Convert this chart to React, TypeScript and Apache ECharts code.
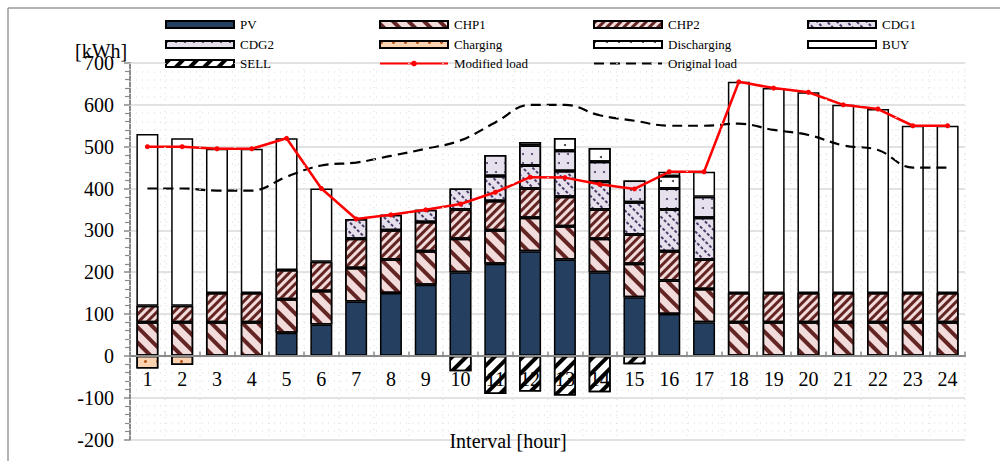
import React, { useEffect, useRef } from 'react';
import * as echarts from 'echarts';

const categories = ['1','2','3','4','5','6','7','8','9','10','11','12','13','14','15','16','17','18','19','20','21','22','23','24'];
const pv =          [0, 0, 0, 0, 55, 75, 130, 150, 170, 200, 220, 250, 230, 200, 140, 100, 80, 0, 0, 0, 0, 0, 0, 0];
const chp1 =        [80, 80, 80, 80, 80, 80, 80, 80, 80, 80, 80, 80, 80, 80, 80, 80, 80, 80, 80, 80, 80, 80, 80, 80];
const chp2 =        [40, 40, 70, 70, 70, 70, 70, 70, 70, 70, 70, 70, 70, 70, 70, 70, 70, 70, 70, 70, 70, 70, 70, 70];
const cdg1 =        [0, 0, 0, 0, 0, 0, 47, 37, 29, 50, 60, 55, 62, 66, 77, 100, 100, 0, 0, 0, 0, 0, 0, 0];
const cdg2 =        [0, 0, 0, 0, 0, 0, 0, 0, 0, 0, 50, 48, 48, 48, 52, 50, 50, 0, 0, 0, 0, 0, 0, 0];
const charging =    [-30, -22, 0, 0, 0, 0, 0, 0, 0, 0, 0, 0, 0, 0, 0, 0, 0, 0, 0, 0, 0, 0, 0, 0];
const discharging = [0, 0, 0, 0, 0, 0, 0, 0, 0, 0, 0, 8, 31, 33, 0, 30, 0, 0, 0, 0, 0, 0, 0, 0];
const buy =         [410, 400, 345, 345, 315, 175, 0, 0, 0, 0, 0, 0, 0, 0, 0, 10, 60, 505, 490, 480, 450, 440, 400, 400];
const sell =        [0, 0, 0, 0, 0, 0, 0, 0, 0, -37, -91, -85, -95, -87, -20, 0, 0, 0, 0, 0, 0, 0, 0, 0];
const modifiedLoad = [500, 500, 495, 495, 520, 400, 327, 337, 349, 363, 391, 427, 426, 410, 399, 440, 440, 655, 640, 630, 600, 590, 550, 550];
const originalLoad = [400, 400, 395, 395, 428, 455, 462, 478, 495, 515, 558, 600, 600, 575, 562, 550, 550, 555, 540, 528, 503, 492, 450, 450];
const yTicks = { min: -200, max: 700, interval: 100 };

const FONT = '"Liberation Serif", "Times New Roman", serif';

export default function App() {
  const ref = useRef<HTMLDivElement>(null);
  useEffect(() => {
    if (!ref.current) return;
    const chart = echarts.init(ref.current, null, { renderer: 'svg' });
    const nz = (arr: number[]) => arr.map(v => (v === 0 ? '-' : v));
    const barBase = (name: string, data: number[], color: string, decal?: any) => ({
      name,
      type: 'bar',
      stack: 'total',
      barWidth: 22,
      data: nz(data),
      itemStyle: Object.assign({ color, borderColor: '#000', borderWidth: 1.5 }, decal ? { decal } : {}),
      emphasis: { disabled: true },
      z: 2,
    });
    const series: any[] = [
      barBase('PV', pv, '#253f60'),
      barBase('CHP1', chp1, '#f2dcdb', { symbol: 'rect', symbolSize: 1, color: '#632523', dashArrayX: [1, 0], dashArrayY: [4, 6.5], rotation: Math.PI / 4 }),
      barBase('CHP2', chp2, '#f2dcdb', { symbol: 'rect', symbolSize: 1, color: '#632523', dashArrayX: [1, 0], dashArrayY: [2.3, 2.6], rotation: -Math.PI / 4 }),
      barBase('CDG1', cdg1, '#e5e0ec', { symbol: 'rect', symbolSize: 1, color: '#4b3d68', dashArrayX: [3, 2], dashArrayY: [1.5, 5], rotation: Math.PI / 4 }),
      barBase('CDG2', cdg2, '#e5e0ec', { symbol: 'circle', symbolSize: 1, color: '#4b3d68', dashArrayX: [1.8, 7], dashArrayY: [1.8, 7], rotation: 0 }),
      barBase('Charging', charging, '#fbd3b0', { symbol: 'circle', symbolSize: 1, color: '#b2561a', dashArrayX: [2.2, 9], dashArrayY: [2.2, 6], rotation: 0 }),
      barBase('Discharging', discharging, '#ffffff', { symbol: 'circle', symbolSize: 1, color: '#333333', dashArrayX: [2, 10], dashArrayY: [2, 10], rotation: 0 }),
      barBase('BUY', buy, '#ffffff'),
      barBase('SELL', sell, '#ffffff', { symbol: 'rect', symbolSize: 1, color: '#000000', dashArrayX: [1, 0], dashArrayY: [4, 6], rotation: -Math.PI / 4 }),
      {
        name: 'Modified load',
        type: 'line',
        data: modifiedLoad,
        symbol: 'circle',
        symbolSize: 5,
        itemStyle: { color: '#ff0000' },
        lineStyle: { color: '#ff0000', width: 2.5 },
        emphasis: { disabled: true },
        z: 5,
      },
      {
        name: 'Original load',
        type: 'line',
        data: originalLoad,
        symbol: 'none',
        smooth: 0.4,
        itemStyle: { color: '#000' },
        lineStyle: { color: '#000', width: 2.2, type: [10, 6] },
        emphasis: { disabled: true },
        z: 4,
      },
    ];
    const legendNames = ['PV', 'CHP1', 'CHP2', 'CDG1', 'CDG2', 'Charging', 'Discharging', 'BUY', 'SELL', 'Modified load', 'Original load'];
    const colsX = [165, 379, 593, 807];
    const rowsY = [25, 45, 64];
    const legends = legendNames.map((name, i) => {
      const l: any = {
        data: [i < 9 ? { name, icon: 'rect' } : { name }],
        left: colsX[i % 4],
        top: rowsY[Math.floor(i / 4)] - 7,
        itemWidth: 68,
        itemHeight: 7,
        itemGap: 0,
        selectedMode: false,
        padding: 0,
        textStyle: { fontFamily: FONT, fontSize: 13, color: '#000', padding: [0, 0, 0, 1] },
      };
      if (i === 10) l.itemStyle = { opacity: 0 };
      return l;
    });
    const gridTop = 63;
    const gridBottom = 21.5;
    const gridH = 461 - gridTop - gridBottom;
    const zeroOffset = -gridH * (0 - yTicks.min) / (yTicks.max - yTicks.min);
    chart.setOption({
      animation: false,
      legend: legends,
      grid: { left: 130, right: 35, top: gridTop, bottom: gridBottom, containLabel: false, outerBoundsMode: 'none' },
      xAxis: {
        type: 'category',
        data: categories,
        position: 'bottom',
        offset: zeroOffset,
        z: 10,
        axisLine: { onZero: false, lineStyle: { color: '#8a8a8a', width: 2 } },
        axisTick: { show: true, inside: true, length: 4, lineStyle: { color: '#8a8a8a', width: 1.5 } },
        axisLabel: { fontFamily: FONT, fontSize: 20, color: '#000', margin: 13 },
        splitLine: { show: true, lineStyle: { color: '#e6e6e6', type: [1, 5], width: 1.5 } },
      },
      yAxis: {
        type: 'value',
        min: yTicks.min,
        max: yTicks.max,
        interval: yTicks.interval,
        axisLine: { show: true, onZero: false, lineStyle: { color: '#8a8a8a', width: 2 } },
        axisTick: { show: true, length: 6, lineStyle: { color: '#8a8a8a', width: 1.5 } },
        minorTick: { show: true, splitNumber: 5, length: 5, lineStyle: { color: '#8a8a8a', width: 1.2 } },
        axisLabel: { fontFamily: FONT, fontSize: 20, color: '#000', margin: 16 },
        splitLine: { show: true, lineStyle: { color: '#d9d9d9', width: 1.5 } },
        minorSplitLine: { show: true, lineStyle: { color: '#e6e6e6', type: [1, 5], width: 1.5 } },
      },
      graphic: [
        { type: 'line', shape: { x1: 8, y1: 8, x2: 1000, y2: 8 }, style: { stroke: '#9a9a9a', lineWidth: 1.5 } },
        { type: 'line', shape: { x1: 8, y1: 8, x2: 8, y2: 461 }, style: { stroke: '#9a9a9a', lineWidth: 1.5 } },
        { type: 'text', left: 75, top: 41, z: 20, style: { text: '[kWh]', font: `20px ${FONT}`, fill: '#000' } },
        { type: 'text', x: 508, y: 441, z: 20, style: { text: 'Interval [hour]', font: `20px ${FONT}`, fill: '#000', align: 'center', verticalAlign: 'middle' } },
      ],
      series,
    });
    return () => chart.dispose();
  }, []);
  return <div ref={ref} style={{ position: 'fixed', left: 0, top: 0, width: 1000, height: 461, background: '#fff' }} />;
}
